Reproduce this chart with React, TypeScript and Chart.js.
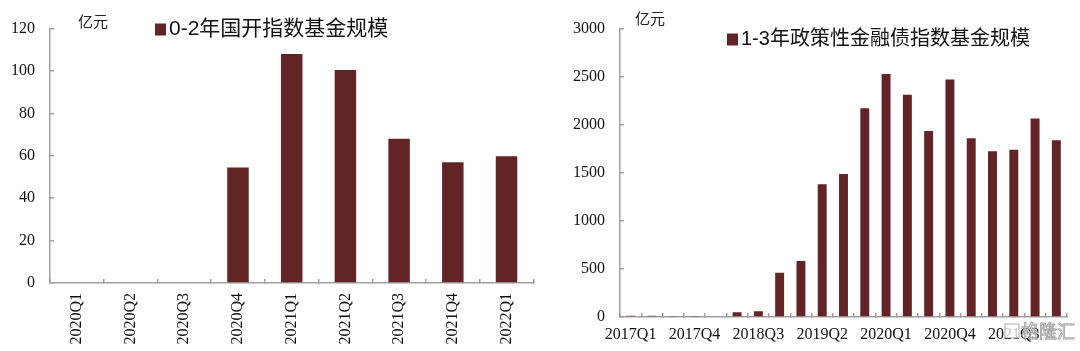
import React, { useEffect, useRef } from 'react';
import { Chart, registerables } from 'chart.js';

Chart.register(...registerables);

// ---- Data ----
const leftCategories = ['2020Q1', '2020Q2', '2020Q3', '2020Q4', '2021Q1', '2021Q2', '2021Q3', '2021Q4', '2022Q1'];
const leftValues = [0, 0, 0, 54.5, 108, 100.5, 68, 57, 59.8];
const leftLegend = '0-2年国开指数基金规模';
const leftYMax = 120;
const leftYStep = 20;

const rightCategories = [
  '2017Q1', '2017Q2', '2017Q3', '2017Q4',
  '2018Q1', '2018Q2', '2018Q3', '2018Q4',
  '2019Q1', '2019Q2', '2019Q3', '2019Q4',
  '2020Q1', '2020Q2', '2020Q3', '2020Q4',
  '2021Q1', '2021Q2', '2021Q3', '2021Q4',
  '2022Q1',
];
const rightValues = [12, 12, 10, 10, 8, 50, 60, 460, 582, 1380, 1488, 2171, 2527, 2312, 1934, 2470, 1859, 1724, 1741, 2066, 1839];
const rightLegend = '1-3年政策性金融债指数基金规模';
const rightYMax = 3000;
const rightYStep = 500;
const rightLabelEvery = 3;

const unitLabel = '亿元';
const watermark = '格隆汇';

const BAR = '#632426';
const AXIS = '#a0a0a0';
const SERIF = '"Liberation Serif", "Times New Roman", serif';
const CJK = '"Noto Sans CJK SC", "Noto Sans", sans-serif';
const LEGEND_FONT = 'Arial, "Liberation Sans", "Noto Sans CJK SC", sans-serif';

type Deco = {
  unitX: number; unitY: number;
  legX: number; legY: number; legSize: number; legFont: number; legText: string;
  wm?: boolean;
};

function decoPlugin(d: Deco) {
  return {
    id: 'deco',
    afterDraw(chart: any) {
      const ctx = chart.ctx as CanvasRenderingContext2D;
      ctx.save();
      ctx.fillStyle = '#222';
      ctx.font = `15px ${CJK}`;
      ctx.textBaseline = 'middle';
      ctx.textAlign = 'left';
      ctx.fillText(unitLabel, d.unitX, d.unitY);
      ctx.fillStyle = BAR;
      ctx.fillRect(d.legX, d.legY - d.legSize / 2, d.legSize, d.legSize + 1);
      ctx.fillStyle = '#111';
      ctx.font = `${d.legFont}px ${LEGEND_FONT}`;
      ctx.fillText(d.legText, d.legX + d.legSize + 3, d.legY);
      if (d.wm) {
        ctx.font = `18px ${CJK}`;
        ctx.lineWidth = 1;
        ctx.strokeStyle = 'rgba(150,150,150,0.8)';
        ctx.fillStyle = 'rgba(255,255,255,0.75)';
        ctx.fillRect(465, 324, 14, 14);
        ctx.strokeRect(465, 324, 14, 14);
        ctx.fillText(watermark, 481, 331);
        ctx.strokeText(watermark, 481, 331);
      }
      ctx.restore();
    },
  };
}

function makeConfig(opts: {
  labels: string[]; values: number[]; yMax: number; yStep: number;
  barPct: number; yAxisWidth: number; xAxisHeight: number;
  padTop: number; padRight: number; rotate: boolean; labelEvery: number;
  xPad: number; deco: Deco;
}) {
  return {
    type: 'bar' as const,
    data: {
      labels: opts.labels,
      datasets: [{
        data: opts.values,
        backgroundColor: BAR,
        borderWidth: 0,
        categoryPercentage: 1,
        barPercentage: opts.barPct,
      }],
    },
    plugins: [decoPlugin(opts.deco)],
    options: {
      animation: false,
      responsive: false,
      maintainAspectRatio: false,
      devicePixelRatio: 1,
      layout: { padding: { top: opts.padTop, right: opts.padRight, left: 0, bottom: 0 } },
      plugins: { legend: { display: false }, tooltip: { enabled: false }, title: { display: false } },
      scales: {
        x: {
          offset: true,
          grid: { display: true, drawOnChartArea: false, drawTicks: true, tickLength: -4, color: AXIS, lineWidth: 1.5, offset: true },
          border: { display: true, color: AXIS, width: 1.5 },
          ticks: {
            autoSkip: false,
            minRotation: opts.rotate ? 90 : 0,
            maxRotation: opts.rotate ? 90 : 0,
            padding: opts.xPad,
            color: '#111',
            font: { family: SERIF, size: 16 },
            callback: (_v: any, i: number) => (i % opts.labelEvery === 0 ? opts.labels[i] : ''),
          },
          afterFit: (s: any) => { s.height = opts.xAxisHeight; },
        },
        y: {
          min: 0,
          max: opts.yMax,
          grid: { display: true, drawOnChartArea: false, drawTicks: true, tickLength: -4, color: AXIS, lineWidth: 1.5 },
          border: { display: true, color: AXIS, width: 1.5 },
          ticks: {
            stepSize: opts.yStep,
            padding: 19,
            color: '#111',
            font: { family: SERIF, size: 16 },
            callback: (v: any) => String(v),
          },
          afterFit: (s: any) => { s.width = opts.yAxisWidth; },
        },
      },
    },
  };
}

function BarPanel(props: { left: number; config: any }) {
  const ref = useRef<HTMLCanvasElement | null>(null);
  useEffect(() => {
    if (!ref.current) return;
    const chart = new Chart(ref.current, props.config);
    return () => chart.destroy();
  }, []);
  return (
    <canvas
      ref={ref}
      width={540}
      height={351}
      style={{ position: 'absolute', left: props.left, top: 0, width: 540, height: 351, display: 'block' }}
    />
  );
}

export default function App() {
  const leftConfig = makeConfig({
    labels: leftCategories, values: leftValues, yMax: leftYMax, yStep: leftYStep,
    barPct: 0.4, yAxisWidth: 50, xAxisHeight: 68, padTop: 16, padRight: 5,
    rotate: true, labelEvery: 1, xPad: 14,
    deco: { unitX: 78, unitY: 21, legX: 155, legY: 29, legSize: 11, legFont: 21, legText: leftLegend },
  });
  const rightConfig = makeConfig({
    labels: rightCategories, values: rightValues, yMax: rightYMax, yStep: rightYStep,
    barPct: 0.42, yAxisWidth: 80, xAxisHeight: 34, padTop: 16, padRight: 13,
    rotate: false, labelEvery: rightLabelEvery, xPad: 12,
    deco: { unitX: 95, unitY: 18, legX: 187, legY: 39, legSize: 11, legFont: 20, legText: rightLegend, wm: true },
  });
  return (
    <div style={{ position: 'fixed', left: 0, top: 0, width: 1080, height: 351, background: '#fff' }}>
      <BarPanel left={0} config={leftConfig} />
      <BarPanel left={540} config={rightConfig} />
    </div>
  );
}
